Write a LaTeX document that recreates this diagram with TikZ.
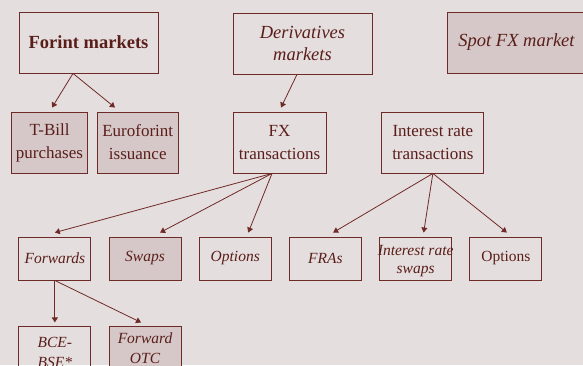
\documentclass[tikz,border=0pt]{standalone}
\usepackage{fontspec}
\setmainfont{Liberation Serif}
\usepackage{tikz}
\usetikzlibrary{arrows.meta, positioning}
\definecolor{marketbg}{HTML}{E5DEDE}
\definecolor{marketfill}{HTML}{D6C8C8}
\definecolor{marketborder}{HTML}{6E2A26}
\definecolor{markettext}{HTML}{5A1E1A}

\begin{document}
\begin{tikzpicture}[
  x=1pt, y=-1pt,
  node distance=46pt and 17.3pt,
  box/.style={rectangle, draw=marketborder, line width=0.9pt, align=center,
               inner sep=0pt, text=markettext},
  sbox/.style={box, fill=marketfill},
  topbox/.style={minimum width=139pt, minimum height=61pt,
               font=\fontsize{18.5}{22}\selectfont\itshape},
  midbox/.style={minimum height=61pt, font=\fontsize{17}{23}\selectfont},
  lowbox/.style={minimum width=72pt, minimum height=43pt,
               font=\fontsize{15.5}{18}\selectfont\itshape},
  arrow/.style={-{Triangle[length=5pt, width=6pt]}, line width=0.8pt, draw=marketborder}
]
  \useasboundingbox (0,0) rectangle (583,365);
  \fill[marketbg] (0,0) rectangle (583,365);

  % top row
  \node[box, topbox, font=\fontsize{18.5}{22}\selectfont\bfseries] (forint) at (88.5,42.5) {Forint markets};
  \node[box, topbox] (deriv) at (302.5,43.5) {Derivatives\\markets};
  \node[sbox, topbox] (spot) at (516.5,42.5) {Spot FX market};

  % second row
  \node[sbox, midbox, minimum width=76pt] (tbill) at (49.5,142.5) {T-Bill\\purchases};
  \node[sbox, midbox, minimum width=81pt] (euro) at (137.75,142.5) {Euroforint\\issuance};
  \node[box, midbox, minimum width=93pt] (fxtr) at (279.5,142.5) {FX\\transactions};
  \node[box, midbox, minimum width=102pt] (irtr) at (432.85,142.5) {Interest rate\\transactions};

  % instruments
  \node[box, lowbox] (fwd) at (54.85,258.5) {Forwards};
  \node[sbox, lowbox, right=of fwd] (swaps) {Swaps};
  \node[box, lowbox, right=of swaps] (opts) {Options};
  \node[box, lowbox, right=of opts] (fras) {FRAs};
  \node[box, lowbox, right=of fras] (irs) {\makebox[0pt]{\rule{0pt}{15pt}Interest rate}\\\makebox[0pt]{swaps}};
  \node[box, lowbox, font=\fontsize{15.5}{18}\selectfont, right=of irs] (iropts) {Options};

  % forwards split
  \node[box, lowbox, minimum height=51pt, font=\fontsize{15.5}{20}\selectfont\itshape, below=of fwd] (bce) {BCE-\\BSE*};
  \node[sbox, lowbox, font=\fontsize{15.5}{20}\selectfont\itshape, right=of bce.north east, anchor=north west] (otc) {Forward\\OTC};

  \coordinate (forintout) at ([xshift=-15.5pt]forint.south);
  \coordinate (derivout) at ([xshift=-5.5pt]deriv.south);
  \coordinate (fxout) at ([xshift=-7.5pt]fxtr.south);

  \draw[arrow] (forintout) -- ([xshift=2.5pt, yshift=4pt]tbill.north);
  \draw[arrow] (forintout) -- ([xshift=-22.75pt, yshift=4pt]euro.north);
  \draw[arrow] (derivout) -- ([xshift=1.5pt, yshift=4pt]fxtr.north);

  \draw[arrow] (fxout) -- ([yshift=4pt]fwd.north);
  \draw[arrow] (fxout) -- ([xshift=15pt, yshift=4pt]swaps.north);
  \draw[arrow] (fxout) -- ([xshift=13pt, yshift=4pt]opts.north);

  \draw[arrow] (irtr.south) -- ([xshift=7.7pt, yshift=4pt]fras.north);
  \draw[arrow] (irtr.south) -- ([xshift=8pt, yshift=4pt]irs.north);
  \draw[arrow] (irtr.south) -- ([xshift=1pt, yshift=4pt]iropts.north);

  \draw[arrow] (fwd.south) -- ([yshift=4pt]bce.north);
  \draw[arrow] (fwd.south) -- ([xshift=-4pt, yshift=4pt]otc.north);
\end{tikzpicture}
\end{document}
